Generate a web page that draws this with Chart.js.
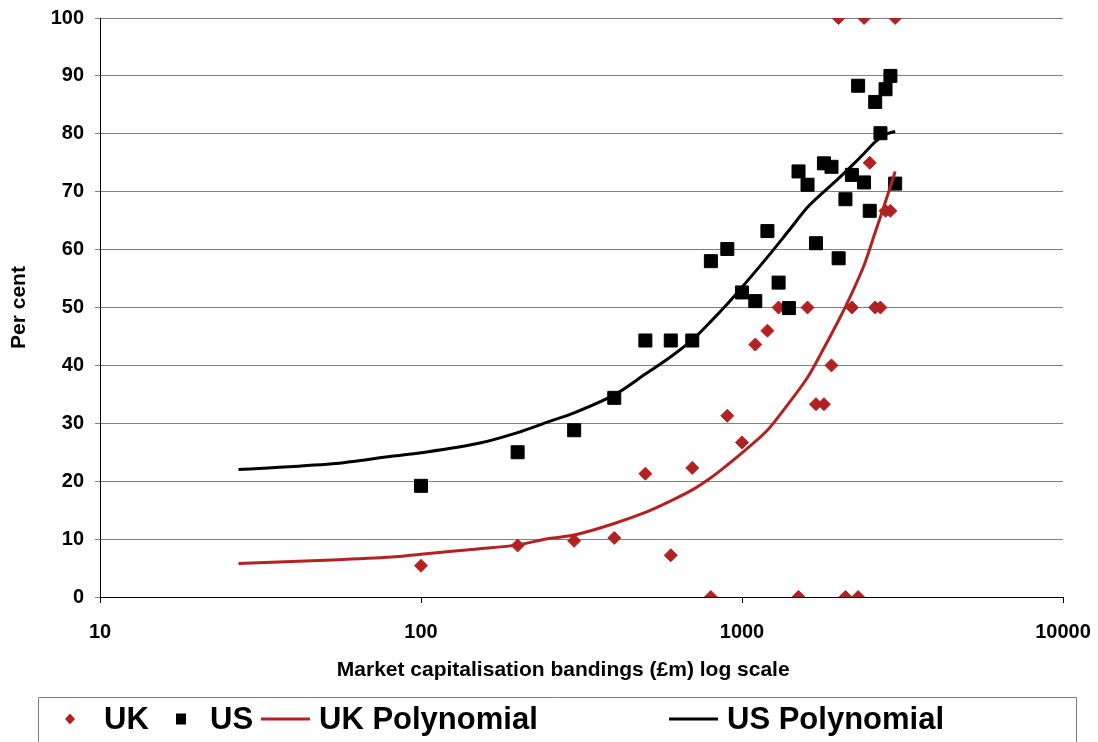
<!DOCTYPE html>
<html>
<head>
<meta charset="utf-8">
<title>Per cent by market capitalisation banding</title>
<script src="https://cdn.jsdelivr.net/npm/chart.js@4.4.1/dist/chart.umd.min.js"></script>
<style>
  html, body { margin: 0; padding: 0; background: #ffffff; }
  #wrap { width: 1098px; height: 742px; position: relative; }
  canvas { display: block; }
</style>
</head>
<body>
<div id="wrap"><canvas id="chart" width="1098" height="742"></canvas></div>
<script>
// Market capitalisation bandings (£m)
const ukBands = [100, 200, 300, 400, 500, 600, 700, 800, 900, 1000, 1100, 1200, 1300,
                 1500, 1600, 1700, 1800, 1900, 2000, 2100, 2200, 2300, 2400, 2500,
                 2600, 2700, 2800, 2900, 3000];
const ukShare = [5.4, 8.9, 9.7, 10.2, 21.3, 7.2, 22.3, 0, 31.3, 26.7, 43.6, 46.0, 50,
                 0, 50, 33.3, 33.3, 40, 100, 0, 50, 0, 100, 75,
                 50, 50, 66.7, 66.7, 100];

const usBands = [100, 200, 300, 400, 500, 600, 700, 800, 900, 1000, 1100, 1200, 1300, 1400,
                 1500, 1600, 1700, 1800, 1900, 2000, 2100, 2200, 2300, 2400, 2500,
                 2600, 2700, 2800, 2900, 3000];
const usShare = [19.2, 25.0, 28.8, 34.4, 44.3, 44.3, 44.3, 58.0, 60.1, 52.6, 51.1, 63.2, 54.3, 49.9,
                 73.5, 71.2, 61.1, 74.9, 74.3, 58.5, 68.7, 72.9, 88.3, 71.6, 66.7,
                 85.5, 80.1, 87.7, 90.0, 71.4];

// Polynomial trend lines
const trendBands = [27, 53, 81, 100, 150, 200, 250, 300, 400, 500, 600, 700, 800, 900, 1000,
                    1200, 1400, 1600, 1800, 2000, 2200, 2400, 2600, 2800, 3000];
const ukTrend = [5.8, 6.4, 6.9, 7.4, 8.3, 9.0, 10.1, 10.7, 12.7, 14.6, 16.6, 18.5, 20.6, 22.8, 24.9,
                 28.8, 33.5, 37.9, 43.0, 47.8, 52.5, 57.3, 63.0, 68.3, 73.5];
const usTrend = [22.0, 23.0, 24.3, 24.9, 26.5, 28.4, 30.3, 31.8, 34.9, 38.5, 41.5, 44.4, 47.6, 50.6, 53.5,
                 58.7, 63.3, 67.3, 70.0, 72.3, 74.5, 76.6, 78.6, 79.9, 80.4];

const xTickValues = [10, 100, 1000, 10000];
const yTickValues = [0, 10, 20, 30, 40, 50, 60, 70, 80, 90, 100];

const seriesNames = ['UK', 'US', 'UK Polynomial', 'US Polynomial'];
const xTitle = 'Market capitalisation bandings (£m) log scale';
const yTitle = 'Per cent';

const RED = '#b22222';
const BLACK = '#000000';
const FONT = '"Liberation Sans", Arial, Helvetica, sans-serif';

const toPoints = (xs, ys) => xs.map((x, i) => ({ x: x, y: ys[i] }));

// Frame and legend strip beneath the plot, plus the horizontal axis title
const legendStrip = {
  id: 'legendStrip',
  afterDraw(chart) {
    const ctx = chart.ctx;
    const area = chart.chartArea;
    ctx.save();

    ctx.fillStyle = '#000';
    ctx.font = 'bold 21px ' + FONT;
    ctx.textAlign = 'center';
    ctx.textBaseline = 'middle';
    ctx.fillText(xTitle, area.left + (area.right - area.left) * 0.481, 670);

    ctx.strokeStyle = '#7f7f7f';
    ctx.lineWidth = 1;
    ctx.beginPath();
    ctx.moveTo(38.5, 750);
    ctx.lineTo(38.5, 697.5);
    ctx.lineTo(1076.5, 697.5);
    ctx.lineTo(1076.5, 750);
    ctx.stroke();

    const y = 719;
    const ds = chart.data.datasets;
    const items = [
      { d: ds[0], mark: 70, text: 104 },
      { d: ds[1], mark: 181, text: 210 },
      { d: ds[2], line: [261, 310], text: 319 },
      { d: ds[3], line: [669, 718], text: 727 }
    ];
    ctx.font = 'bold 31px ' + FONT;
    ctx.textAlign = 'left';
    items.forEach(it => {
      if (it.line) {
        ctx.strokeStyle = it.d.borderColor;
        ctx.lineWidth = 3;
        ctx.beginPath();
        ctx.moveTo(it.line[0], y);
        ctx.lineTo(it.line[1], y);
        ctx.stroke();
      } else {
        ctx.fillStyle = it.d.pointBackgroundColor;
        ctx.beginPath();
        if (it.d.pointStyle === 'rectRot') {
          ctx.moveTo(it.mark, y - 5.5);
          ctx.lineTo(it.mark + 5, y);
          ctx.lineTo(it.mark, y + 5.5);
          ctx.lineTo(it.mark - 5, y);
          ctx.closePath();
        } else {
          ctx.rect(it.mark - 5, y - 5.5, 10, 11);
        }
        ctx.fill();
      }
      ctx.fillStyle = '#000';
      ctx.fillText(it.d.label, it.text, y + 1);
    });
    ctx.restore();
  }
};

new Chart(document.getElementById('chart'), {
  type: 'scatter',
  data: {
    datasets: [
      {
        label: seriesNames[0],
        data: toPoints(ukBands, ukShare),
        pointStyle: 'rectRot',
        pointRadius: 6.5,
        pointBackgroundColor: RED,
        pointBorderColor: RED,
        pointBorderWidth: 1,
        showLine: false,
        order: 4
      },
      {
        label: seriesNames[1],
        data: toPoints(usBands, usShare),
        pointStyle: 'rect',
        pointRadius: 9.2,
        pointBackgroundColor: BLACK,
        pointBorderColor: BLACK,
        pointBorderWidth: 1,
        showLine: false,
        order: 3
      },
      {
        label: seriesNames[2],
        data: toPoints(trendBands, ukTrend),
        showLine: true,
        borderColor: RED,
        borderWidth: 3,
        pointRadius: 0,
        tension: 0.3,
        fill: false,
        order: 2
      },
      {
        label: seriesNames[3],
        data: toPoints(trendBands, usTrend),
        showLine: true,
        borderColor: BLACK,
        borderWidth: 3,
        pointRadius: 0,
        tension: 0.3,
        fill: false,
        order: 1
      }
    ]
  },
  options: {
    responsive: false,
    animation: false,
    events: [],
    layout: { padding: { left: 0, right: 35, top: 18, bottom: 0 } },
    plugins: {
      legend: { display: false },
      tooltip: { enabled: false }
    },
    scales: {
      x: {
        type: 'logarithmic',
        min: 10,
        max: 10000,
        afterBuildTicks: s => { s.ticks = xTickValues.map(v => ({ value: v })); },
        afterFit: s => {
          s.height = 145;
          s.paddingLeft = 0; s.paddingRight = 0; s.paddingTop = 0; s.paddingBottom = 0;
        },
        border: { display: true, color: '#000', width: 1 },
        grid: { drawOnChartArea: false, drawTicks: true, tickLength: 6, color: '#000' },
        ticks: {
          color: '#000',
          font: { family: FONT, size: 20, weight: 'bold' },
          padding: 17,
          maxRotation: 0,
          autoSkip: false,
          callback: v => String(v)
        },
        title: { display: false }
      },
      y: {
        type: 'linear',
        min: 0,
        max: 100,
        afterBuildTicks: s => { s.ticks = yTickValues.map(v => ({ value: v })); },
        afterFit: s => {
          s.width = 100;
          s.paddingLeft = 0; s.paddingRight = 0; s.paddingTop = 0; s.paddingBottom = 0;
        },
        border: { display: true, color: '#000', width: 1 },
        grid: { color: '#808080', lineWidth: 1, tickLength: 5, drawTicks: true },
        ticks: {
          color: '#000',
          font: { family: FONT, size: 20, weight: 'bold' },
          padding: 11,
          callback: v => String(v)
        },
        title: {
          display: true,
          text: yTitle,
          color: '#000',
          font: { family: FONT, size: 21, weight: 'bold' },
          padding: { top: 7, bottom: 0 }
        }
      }
    }
  },
  plugins: [legendStrip]
});
</script>
</body>
</html>
